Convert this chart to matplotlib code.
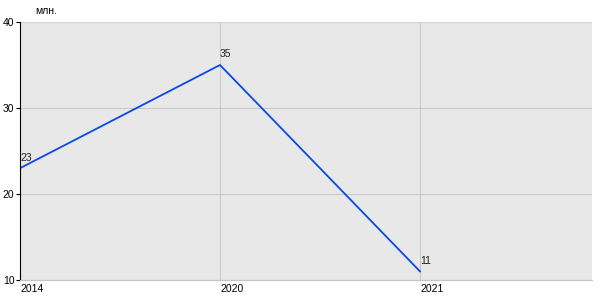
import matplotlib.pyplot as plt

# data
years = ["2014", "2020", "2021"]
values = [23, 35, 11]
yticks = [10, 20, 30, 40]

plt.rcParams['font.family'] = ['Liberation Sans', 'DejaVu Sans']

fig = plt.figure(figsize=(6, 3), dpi=100)
ax = fig.add_axes([20/600, 20/300, 572/600, 258/300])
ax.set_facecolor('#e8e8e8')

x = list(range(len(years)))
ax.plot(x, values, color='#0a48e8', lw=1.3)

for xi, v in zip(x, values):
    ax.annotate(str(v), (xi, v), xytext=(0, 4), textcoords='offset points',
                fontsize=7.5, ha='left', va='bottom', color='#222222')

ax.set_xlim(0, 2.86)
ax.set_ylim(10, 40)
ax.set_xticks(x)
ax.set_xticklabels(years, ha='left')
ax.set_yticks(yticks)
ax.tick_params(axis='x', length=0, labelsize=7.5, pad=3)
ax.tick_params(axis='y', length=3, width=0.8, labelsize=7.5, pad=1)
ax.grid(True, color='#c8c8c8', lw=0.8)
ax.set_axisbelow(True)

for s in ['top', 'right']:
    ax.spines[s].set_visible(False)
ax.spines['bottom'].set_color('#c4c4c4')
ax.spines['left'].set_color('black')
ax.axhline(40, color='#d4d4d4', lw=1.2)

fig.text(35/600, 1 - 11/300, 'млн.', fontsize=7.5, ha='left', va='center')

fig.savefig('out.png', dpi=100)
